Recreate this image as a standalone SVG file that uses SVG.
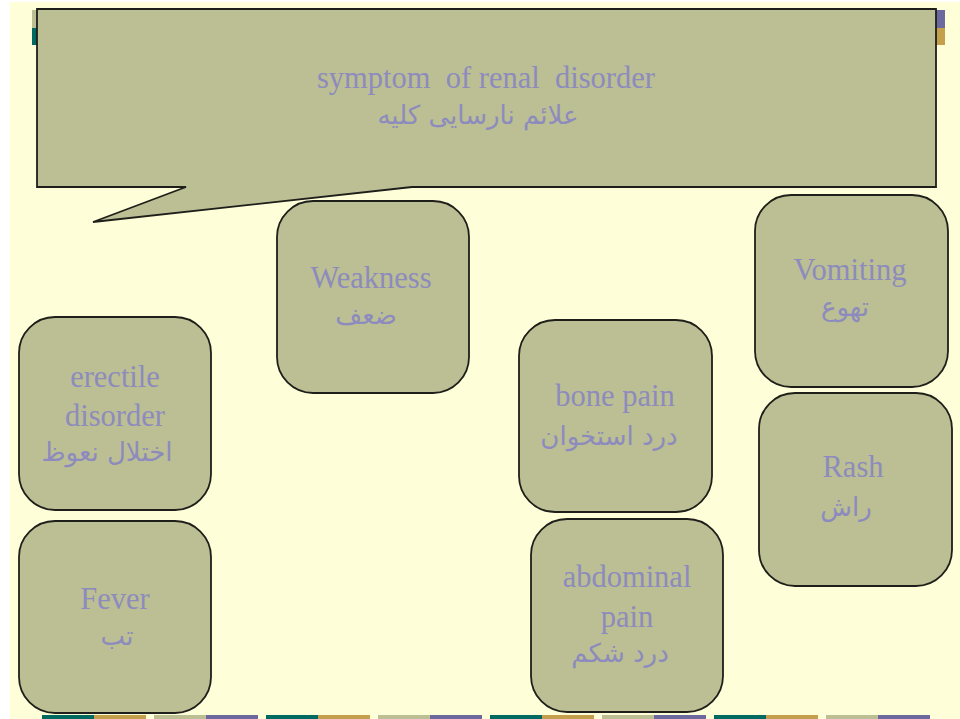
<svg xmlns="http://www.w3.org/2000/svg" width="960" height="719" viewBox="0 0 960 719">
  <style>
    .node { fill: #BBBF93; stroke: #1E1E1A; stroke-width: 1.8; }
    .en { font-family: "Liberation Serif", "Times New Roman", serif; font-size: 30.5px; fill: #8D8BBE; text-anchor: middle; }
    .fa { font-family: "DejaVu Sans", "Noto Sans", sans-serif; font-size: 26px; fill: #8D8BBE; text-anchor: middle; direction: rtl; }
    .teal { fill: #006A60; }
    .gold { fill: #C4A04C; }
    .sage { fill: #BBBF93; }
    .violet { fill: #6C699F; }
  </style>

  <!-- slide background -->
  <rect x="0" y="0" width="960" height="719" fill="#FFFFFF"/>
  <rect x="10" y="2" width="950" height="717" fill="#FEFED8"/>

  <!-- header band (mostly covered by the callout) -->
  <g id="header-band">
    <rect class="sage" x="32" y="10" width="12" height="18"/>
    <rect class="teal" x="32" y="28" width="12" height="17"/>
    <rect class="violet" x="930" y="10" width="15" height="18"/>
    <rect class="gold" x="930" y="28" width="15" height="17"/>
  </g>

  <!-- footer band -->
  <g id="footer-band">
    <rect class="teal" x="42" y="715" width="52" height="4"/>
    <rect class="gold" x="94" y="715" width="52" height="4"/>
    <rect class="sage" x="154" y="715" width="52" height="4"/>
    <rect class="violet" x="206" y="715" width="52" height="4"/>
    <rect class="teal" x="266" y="715" width="52" height="4"/>
    <rect class="gold" x="318" y="715" width="52" height="4"/>
    <rect class="sage" x="378" y="715" width="52" height="4"/>
    <rect class="violet" x="430" y="715" width="52" height="4"/>
    <rect class="teal" x="490" y="715" width="52" height="4"/>
    <rect class="gold" x="542" y="715" width="52" height="4"/>
    <rect class="sage" x="602" y="715" width="52" height="4"/>
    <rect class="violet" x="654" y="715" width="52" height="4"/>
    <rect class="teal" x="714" y="715" width="52" height="4"/>
    <rect class="gold" x="766" y="715" width="52" height="4"/>
    <rect class="sage" x="826" y="715" width="52" height="4"/>
    <rect class="violet" x="878" y="715" width="52" height="4"/>
  </g>

  <!-- title callout -->
  <g id="title">
    <path class="node" d="M37,9 H936 V187 H412 L93,222 L186,187 H37 Z"/>
    <text class="en" x="486" y="88" xml:space="preserve">symptom  of renal  disorder</text>
    <text class="fa" x="478" y="124">علائم نارسایی  کلیه</text>
  </g>

  <g id="weakness">
    <rect class="node" x="277" y="201" width="192" height="192" rx="36"/>
    <text class="en" x="371" y="288">Weakness</text>
    <text class="fa" x="366" y="324">ضعف</text>
  </g>

  <g id="vomiting">
    <rect class="node" x="755" y="195" width="193" height="192" rx="36"/>
    <text class="en" x="850" y="280">Vomiting</text>
    <text class="fa" x="845" y="316">تهوع</text>
  </g>

  <g id="erectile-disorder">
    <rect class="node" x="19" y="317" width="192" height="193" rx="36"/>
    <text class="en" x="115" y="387">erectile</text>
    <text class="en" x="115" y="426">disorder</text>
    <text class="fa" x="107" y="461">اختلال نعوظ</text>
  </g>

  <g id="bone-pain">
    <rect class="node" x="519" y="320" width="193" height="192" rx="36"/>
    <text class="en" x="615" y="406">bone pain</text>
    <text class="fa" x="609" y="445">درد استخوان</text>
  </g>

  <g id="rash">
    <rect class="node" x="759" y="393" width="193" height="193" rx="36"/>
    <text class="en" x="853" y="477">Rash</text>
    <text class="fa" x="846" y="516">راش</text>
  </g>

  <g id="fever">
    <rect class="node" x="19" y="521" width="192" height="192" rx="36"/>
    <text class="en" x="115" y="609">Fever</text>
    <text class="fa" x="117" y="645">تب</text>
  </g>

  <g id="abdominal-pain">
    <rect class="node" x="531" y="519" width="192" height="193" rx="36"/>
    <text class="en" x="627" y="587">abdominal</text>
    <text class="en" x="627" y="627">pain</text>
    <text class="fa" x="620" y="662">درد شکم</text>
  </g>
</svg>
